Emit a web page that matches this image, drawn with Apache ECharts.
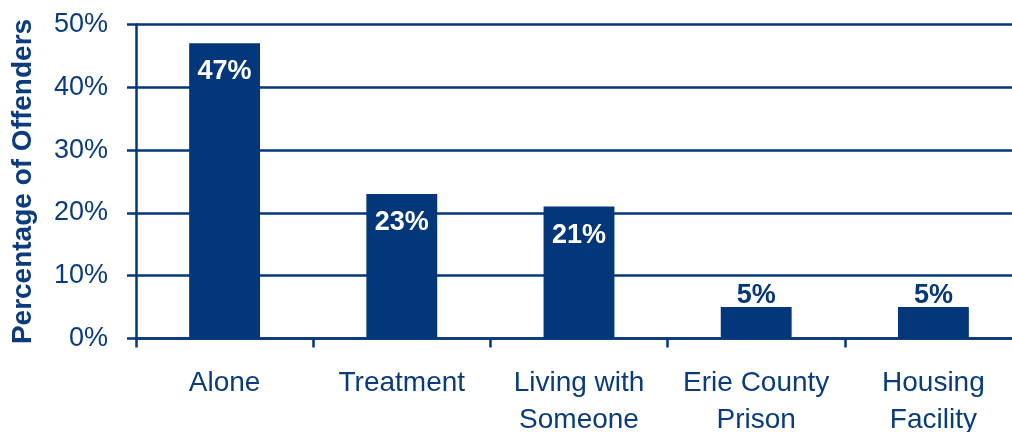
<!DOCTYPE html>
<html>
<head>
<meta charset="utf-8">
<style>
  html, body { margin: 0; padding: 0; background: #ffffff; }
  #chart { width: 1012px; height: 432px; }
</style>
<script src="https://cdn.jsdelivr.net/npm/echarts@6/dist/echarts.min.js"></script>
</head>
<body>
<div id="chart"></div>
<script>
// Where offenders were living
const categories = ['Alone', 'Treatment', 'Living with\nSomeone', 'Erie County\nPrison', 'Housing\nFacility'];
const shares = [47, 23, 21, 5, 5];
const yTicks = [0, 10, 20, 30, 40, 50];

const NAVY = '#03377a';
const TEXT = '#0a3c7d';
const FONT = '"Liberation Sans", Arial, sans-serif';

const chart = echarts.init(document.getElementById('chart'), null, { renderer: 'canvas' });

// Tall bars carry their value inside the top in white; short ones above in navy
const barData = shares.map(v => ({
  value: v,
  label: v >= 10
    ? { position: 'insideTop', distance: 15, color: '#ffffff' }
    : { position: 'top', distance: -2, color: NAVY }
}));

chart.setOption({
  animation: false,
  backgroundColor: '#ffffff',
  // the plot runs a little past the right edge of the page, and labels may hang past the bottom
  grid: {
    left: 136, width: 886, top: 24.5, bottom: 93.5,
    containLabel: false,
    outerBoundsMode: 'none'
  },
  xAxis: {
    type: 'category',
    data: categories,
    axisLine: { show: true, lineStyle: { color: NAVY, width: 2.5 } },
    axisTick: { show: true, length: 9, alignWithLabel: false, lineStyle: { color: NAVY, width: 2.5 } },
    axisLabel: {
      interval: 0,
      margin: 26,
      color: TEXT,
      fontFamily: FONT,
      fontSize: 28,
      lineHeight: 37
    }
  },
  yAxis: {
    type: 'value',
    min: yTicks[0],
    max: yTicks[yTicks.length - 1],
    interval: yTicks[1] - yTicks[0],
    name: 'Percentage of Offenders',
    nameLocation: 'middle',
    nameGap: 99,
    nameTextStyle: { color: TEXT, fontFamily: FONT, fontSize: 28, fontWeight: 'bold' },
    axisLine: { show: true, lineStyle: { color: NAVY, width: 2.5 } },
    axisTick: { show: true, length: 9, lineStyle: { color: NAVY, width: 2.5 } },
    splitLine: { show: true, lineStyle: { color: NAVY, width: 2.5 } },
    axisLabel: {
      margin: 28,
      color: TEXT,
      fontFamily: FONT,
      fontSize: 27,
      formatter: '{value}%'
    }
  },
  series: [{
    type: 'bar',
    data: barData,
    barCategoryGap: '60%',
    itemStyle: { color: NAVY },
    label: {
      show: true,
      fontFamily: FONT,
      fontSize: 27,
      fontWeight: 'bold',
      formatter: '{c}%'
    }
  }]
});
</script>
</body>
</html>
